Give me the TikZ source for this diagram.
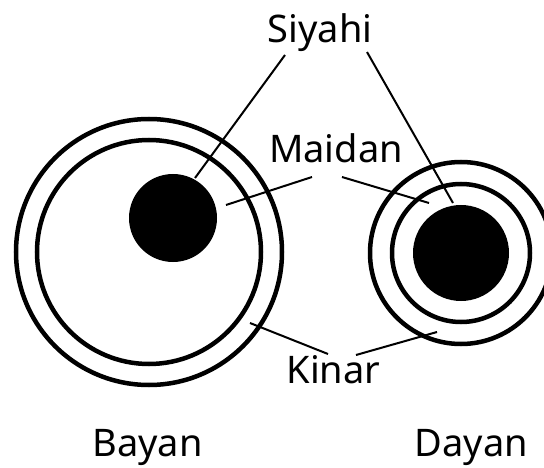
\documentclass[tikz,border=0pt]{standalone}
\usepackage{fontspec}
\setmainfont{Noto Sans}
\begin{document}
\begin{tikzpicture}[x=1pt,y=-1pt,
  ring/.style={draw=black, line width=4.5pt},
  dot/.style={fill=black},
  leader/.style={draw=black, line width=2pt},
  lbl/.style={anchor=base, inner sep=0pt, font=\fontsize{38}{40}\selectfont}]
\useasboundingbox (0,0) rectangle (544,468);
\clip (0,0) rectangle (544,468);
% Bayan
\draw[ring] (149,252) circle[radius=133];
\draw[ring] (149,252) circle[radius=112];
\fill[dot] (173,218) circle[radius=44];
% Dayan
\draw[ring] (461,253) circle[radius=91];
\draw[ring] (461,253) circle[radius=69];
\fill[dot] (461,253) circle[radius=48];
% labels
\node[lbl] (siyahi) at (320,43) {Siyahi};
\node[lbl] (maidan) at (336,163) {Maidan};
\node[lbl] (kinar) at (333.5,383) {Kinar};
\node[lbl] (bayan) at (147.5,456) {Bayan};
\node[lbl] (dayan) at (471.5,456) {Dayan};
% leader coordinates
\coordinate (s1) at (285,55);
\coordinate (s1e) at (195,178);
\coordinate (s2) at (367,52);
\coordinate (s2e) at (453,203);
\coordinate (m1) at (312,177);
\coordinate (m1e) at (226,205);
\coordinate (m2) at (342,177);
\coordinate (m2e) at (429,203);
\coordinate (k1) at (328,354);
\coordinate (k1e) at (250,323);
\coordinate (k2) at (356,355);
\coordinate (k2e) at (437,332);
\draw[leader] (s1) -- (s1e);
\draw[leader] (s2) -- (s2e);
\draw[leader] (m1) -- (m1e);
\draw[leader] (m2) -- (m2e);
\draw[leader] (k1) -- (k1e);
\draw[leader] (k2) -- (k2e);
\end{tikzpicture}
\end{document}
